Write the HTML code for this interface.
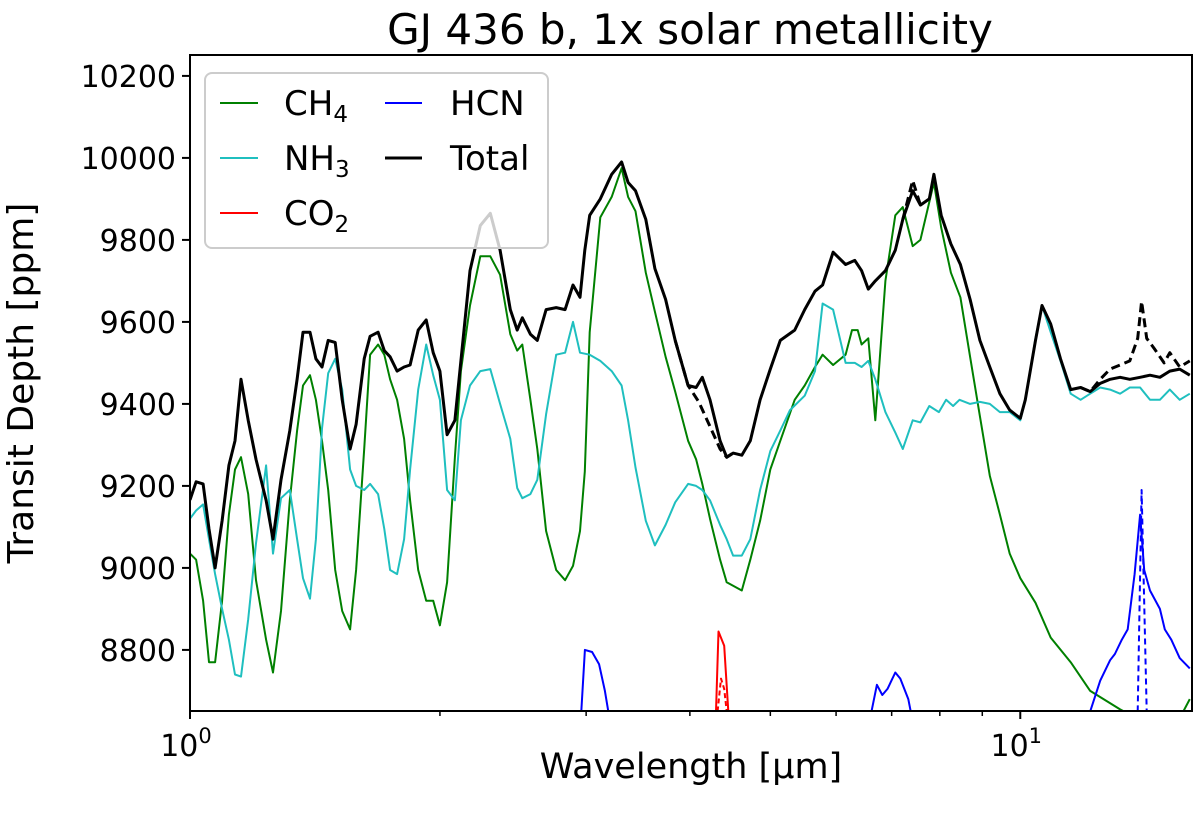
<!DOCTYPE html>
<html><head><meta charset="utf-8">
<style>
body{margin:0;background:#fff;}
svg{display:block;font-family:"DejaVu Sans","Liberation Sans",sans-serif;}
</style></head>
<body>
<svg id="chart" width="1200" height="819" viewBox="0 0 1200 819" xmlns="http://www.w3.org/2000/svg">
<defs><clipPath id="clip"><rect x="190" y="55" width="1002" height="656"/></clipPath></defs>
<text x="690" y="44" font-size="42" text-anchor="middle">GJ 436 b, 1x solar metallicity</text>
<text transform="translate(33,383) rotate(-90)" font-size="36" text-anchor="middle">Transit Depth [ppm]</text>
<text x="691" y="778" font-size="35" text-anchor="middle">Wavelength [μm]</text>
<g id="axes"></g>
<g id="series" clip-path="url(#clip)"></g>
<rect x="190" y="55" width="1002" height="656" fill="none" stroke="#000" stroke-width="2"/>
<g>
<rect x="205" y="73" width="343" height="175" rx="7" fill="#fff" fill-opacity="0.8" stroke="#ccc" stroke-width="2"/>
<line x1="220" y1="103" x2="258" y2="103" stroke="green" stroke-width="2"/>
<text x="284" y="115" font-size="34">CH<tspan font-size="23" dy="7">4</tspan></text>
<line x1="220" y1="158" x2="258" y2="158" stroke="#1fbfbf" stroke-width="2"/>
<text x="284" y="170" font-size="34">NH<tspan font-size="23" dy="7">3</tspan></text>
<line x1="220" y1="213" x2="258" y2="213" stroke="red" stroke-width="2"/>
<text x="284" y="225" font-size="34">CO<tspan font-size="23" dy="7">2</tspan></text>
<line x1="385" y1="103" x2="422" y2="103" stroke="blue" stroke-width="2"/>
<text x="450" y="115" font-size="34">HCN</text>
<line x1="385" y1="158" x2="422" y2="158" stroke="#000" stroke-width="3"/>
<text x="450" y="170" font-size="34">Total</text>
</g>
</svg>
<script>
const yTicks=[8800,9000,9200,9400,9600,9800,10000,10200];
const xMajor=[1,10];
const xMajorLabels=["0","1"];
const xMinor=[2,3,4,5,6,7,8,9];
const totalWl=[1.000,1.017,1.037,1.054,1.072,1.093,1.114,1.133,1.152,1.175,1.201,1.235,1.259,1.287,1.319,1.346,1.368,1.395,1.418,1.442,1.467,1.496,1.525,1.559,1.585,1.621,1.648,1.685,1.714,1.742,1.776,1.811,1.841,1.883,1.925,1.963,2.000,2.040,2.085,2.120,2.174,2.237,2.300,2.363,2.431,2.478,2.513,2.570,2.620,2.685,2.761,2.830,2.893,2.949,2.989,3.03,3.12,3.22,3.31,3.37,3.44,3.54,3.63,3.74,3.84,3.98,4.07,4.14,4.23,4.35,4.43,4.51,4.62,4.73,4.86,5.00,5.14,5.35,5.50,5.66,5.78,5.95,6.16,6.32,6.44,6.56,6.69,6.88,7.07,7.22,7.42,7.58,7.77,7.87,8.03,8.25,8.47,8.70,8.94,9.19,9.45,9.71,10.0,10.14,10.43,10.62,10.88,11.18,11.50,11.82,12.14,12.48,12.83,13.19,13.55,13.94,14.33,14.73,15.14,15.56,16.0];
const totalVal=[9166,9210,9205,9095,9000,9115,9250,9310,9460,9360,9265,9165,9070,9215,9335,9460,9575,9575,9510,9490,9555,9550,9410,9290,9350,9510,9565,9575,9530,9515,9480,9490,9495,9580,9605,9525,9480,9325,9360,9505,9725,9835,9865,9775,9630,9580,9610,9570,9555,9630,9635,9630,9690,9660,9775,9860,9900,9960,9990,9940,9920,9850,9730,9655,9555,9445,9440,9465,9410,9310,9270,9280,9275,9310,9410,9485,9555,9580,9630,9675,9690,9770,9740,9750,9725,9680,9700,9725,9775,9850,9920,9885,9900,9960,9860,9790,9740,9655,9555,9490,9425,9385,9365,9410,9555,9640,9595,9510,9435,9440,9430,9450,9460,9465,9460,9465,9470,9465,9480,9485,9470];
const dashA_Wl=[3.84,3.98,4.10,4.23,4.35,4.43,4.51];
const dashA_Val=[9555,9445,9405,9345,9290,9270,9280];
const dashB_Wl=[7.22,7.42,7.58];
const dashB_Val=[9850,9945,9885];
const dashC_Wl=[11.82,12.14,12.48,12.83,13.19,13.55,13.85,14.0,14.2,14.5,14.9,15.14,15.56,16.0];
const dashC_Val=[9440,9430,9460,9485,9495,9505,9560,9650,9560,9535,9500,9525,9490,9505];
const ch4Wl=[1.000,1.017,1.037,1.054,1.072,1.093,1.114,1.133,1.152,1.175,1.201,1.235,1.259,1.287,1.319,1.346,1.368,1.395,1.418,1.442,1.467,1.496,1.525,1.559,1.585,1.621,1.648,1.685,1.714,1.742,1.776,1.811,1.841,1.883,1.925,1.963,2.000,2.040,2.085,2.120,2.174,2.237,2.300,2.363,2.431,2.478,2.513,2.570,2.620,2.685,2.761,2.830,2.893,2.949,2.989,3.03,3.12,3.22,3.31,3.37,3.44,3.54,3.63,3.74,3.84,3.98,4.07,4.14,4.23,4.35,4.43,4.62,4.73,4.86,5.00,5.14,5.35,5.50,5.66,5.78,5.95,6.16,6.27,6.37,6.44,6.56,6.69,6.88,7.07,7.22,7.42,7.58,7.87,8.03,8.25,8.47,8.70,8.94,9.19,9.45,9.71,10.0,10.43,10.88,11.50,12.14,13.19,14.73,15.3,16.0];
const ch4Val=[9035,9020,8920,8770,8770,8920,9130,9240,9270,9180,8970,8825,8745,8895,9165,9335,9445,9470,9410,9310,9190,8995,8895,8850,8995,9290,9520,9545,9520,9460,9410,9315,9165,8995,8920,8920,8860,8965,9270,9480,9640,9760,9760,9715,9570,9530,9545,9410,9290,9090,8995,8970,9005,9090,9235,9575,9855,9905,9975,9905,9870,9720,9625,9515,9430,9310,9265,9205,9120,9020,8965,8945,9020,9115,9240,9310,9410,9445,9490,9520,9495,9520,9580,9580,9545,9560,9360,9700,9860,9880,9785,9800,9940,9830,9720,9660,9515,9370,9225,9130,9035,8975,8915,8830,8770,8700,8655,8605,8605,8680,8690];
const nh3Wl=[1.000,1.017,1.037,1.054,1.072,1.093,1.114,1.133,1.152,1.175,1.201,1.235,1.259,1.287,1.319,1.346,1.368,1.395,1.418,1.442,1.467,1.496,1.525,1.559,1.585,1.621,1.648,1.685,1.714,1.742,1.776,1.811,1.841,1.883,1.925,1.963,2.000,2.040,2.085,2.120,2.174,2.237,2.300,2.363,2.431,2.478,2.513,2.570,2.620,2.685,2.761,2.830,2.893,2.949,3.03,3.12,3.22,3.31,3.37,3.44,3.54,3.63,3.74,3.84,3.98,4.07,4.14,4.23,4.35,4.43,4.51,4.62,4.73,4.86,5.00,5.14,5.28,5.50,5.66,5.78,5.95,6.16,6.32,6.44,6.56,6.69,6.88,7.07,7.22,7.42,7.58,7.77,7.98,8.14,8.30,8.45,8.70,8.94,9.19,9.45,9.71,10.0,10.14,10.43,10.62,10.88,11.18,11.50,11.82,12.14,12.48,12.83,13.19,13.55,13.94,14.33,14.73,15.14,15.56,16.0];
const nh3Val=[9120,9140,9155,9070,8985,8900,8825,8740,8735,8875,9060,9250,9035,9170,9190,9070,8975,8925,9070,9340,9475,9510,9435,9240,9200,9190,9205,9180,9095,8995,8985,9070,9240,9435,9545,9470,9410,9190,9165,9360,9445,9480,9485,9400,9315,9195,9170,9180,9215,9375,9520,9525,9600,9525,9520,9505,9480,9445,9360,9245,9115,9055,9105,9160,9205,9200,9190,9165,9105,9070,9030,9030,9070,9190,9285,9335,9385,9420,9480,9645,9630,9500,9500,9490,9505,9460,9380,9330,9290,9360,9355,9395,9380,9410,9395,9410,9400,9405,9400,9380,9380,9360,9410,9560,9640,9575,9505,9425,9410,9425,9440,9435,9425,9440,9440,9410,9410,9435,9410,9425];
const hcn1Wl=[2.96,2.99,3.05,3.11,3.16,3.19];
const hcn1Val=[8650,8800,8795,8765,8700,8650];
const hcn2Wl=[6.62,6.72,6.82,6.92,7.07,7.17,7.33,7.38];
const hcn2Val=[8650,8715,8690,8705,8745,8730,8680,8650];
const hcn3Wl=[12.14,12.48,12.83,13.0,13.25,13.47,13.73,13.94,14.1,14.33,14.73,14.93,15.2,15.56,16.0];
const hcn3Val=[8650,8725,8775,8790,8825,8850,8985,9130,8995,8945,8900,8850,8825,8780,8755];
const hcnDashWl=[13.85,14.0,14.2];
const hcnDashVal=[8650,9190,8650];
const co2Wl=[4.30,4.33,4.40,4.45];
const co2Val=[8650,8845,8810,8650];
const co2DashWl=[4.32,4.36,4.40,4.43];
const co2DashVal=[8650,8730,8705,8650];

const X0=190,X1=1192,Y0=711,Y1=55,XMIN=1,XMAX=16.1,YMIN=8651,YMAX=10251;
function xs(w){return X0+(Math.log10(w)-Math.log10(XMIN))/(Math.log10(XMAX)-Math.log10(XMIN))*(X1-X0);}
function ys(v){return Y0-(v-YMIN)/(YMAX-YMIN)*(Y0-Y1);}
const NS="http://www.w3.org/2000/svg";
const axes=document.getElementById('axes');
const ser=document.getElementById('series');
function mk(tag,attrs,parent){const e=document.createElementNS(NS,tag);for(const k in attrs)e.setAttribute(k,attrs[k]);parent.appendChild(e);return e;}
yTicks.forEach(t=>{
  const y=ys(t);
  const l=mk('line',{x1:X0-8,x2:X0,y1:y,y2:y,stroke:'#000','stroke-width':2},axes);
  
  
  const tx=mk('text',{x:X0-14,y:y+11,'font-size':30,'text-anchor':'end'},axes);
  tx.textContent=t;
  
  
});
xMajor.forEach((w,i)=>{
  const x=xs(w);
  const l=mk('line',{x1:x,x2:x,y1:Y0,y2:Y0+8,stroke:'#000','stroke-width':2},axes);
  
  
  const tx=mk('text',{x:x-4,y:Y0+45,'font-size':30,'text-anchor':'middle'},axes);
  tx.innerHTML='10<tspan font-size="21" dy="-13">'+xMajorLabels[i]+'</tspan>';
  
  
});
xMinor.forEach(w=>{
  const x=xs(w);
  const l=mk('line',{x1:x,x2:x,y1:Y0,y2:Y0+5,stroke:'#000','stroke-width':1.5},axes);
  
  
});
function line(wl,val,color,width,dash,name){
  const d=wl.map((w,i)=>(i?'L':'M')+xs(w).toFixed(1)+','+ys(val[i]).toFixed(1)).join(' ');
  const p=mk('path',{d:d,fill:'none',stroke:color,'stroke-width':width,'stroke-linejoin':'round'},ser);
  if(dash)p.setAttribute('stroke-dasharray',dash);
  
  
}
line(ch4Wl,ch4Val,'green',2,null,'ch4-line');
line(nh3Wl,nh3Val,'#1fbfbf',2,null,'nh3-line');
line(co2Wl,co2Val,'red',2,null,'co2-line');
line(co2DashWl,co2DashVal,'red',2,'5,3','co2-dashed-line');
line(hcn1Wl,hcn1Val,'blue',2,null,'hcn-line-1');
line(hcn2Wl,hcn2Val,'blue',2,null,'hcn-line-2');
line(hcn3Wl,hcn3Val,'blue',2,null,'hcn-line-3');
line(hcnDashWl,hcnDashVal,'blue',2,'6,4','hcn-dashed-line');
line(dashA_Wl,dashA_Val,'#000',3,'9,5','total-dashed-a');
line(dashB_Wl,dashB_Val,'#000',3,'9,5','total-dashed-b');
line(dashC_Wl,dashC_Val,'#000',3,'9,5','total-dashed-c');
line(totalWl,totalVal,'#000',3,null,'total-line');
</script>
</body></html>
